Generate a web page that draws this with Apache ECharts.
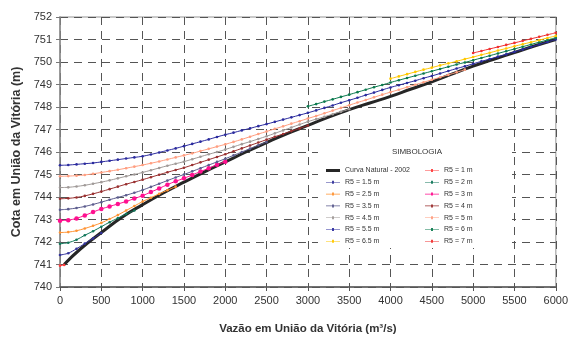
<!DOCTYPE html>
<html><head><meta charset="utf-8">
<script src="https://cdn.jsdelivr.net/npm/echarts@6/dist/echarts.min.js"></script>
<style>html,body{margin:0;padding:0;background:#fff}#c{width:571px;height:340px}</style>
</head><body><div id="c"></div>
<script>
// ---- data (flow in m3/s, level in m) ----
const FLOW_STEP = 100;
const naturalFlow = [50,250,500,750,1000,1250,1500,1750,2000,2250,2500,2750,3000,3250,3500,3750,4000,4250,4500,4750,5000,5250,5500,5750,6000];
const naturalLevel = [741.0,741.7,742.42,743.1,743.66,744.18,744.66,745.12,745.56,746.0,746.42,746.82,747.18,747.55,747.88,748.18,748.47,748.8,749.12,749.47,749.82,750.12,750.42,750.72,751.0];

const r5_1Flow = [0, 50];
const r5_1 = [740.95, 740.98];
const r5_15 = [741.42,741.5,741.7,741.93,742.16,742.4];
const r5_2 = [741.92,741.97,742.1,742.3,742.48,742.68,742.88,743.06,743.24,743.4];
const r5_25 = [742.42,742.44,742.5,742.6,742.72,742.85,743.02,743.2,743.4,743.6,743.8,743.97,744.14,744.3,744.46];
const r5_3 = [742.95,742.97,743.05,743.18,743.33,743.47,743.58,743.69,743.8,743.93,744.06,744.22,744.38,744.55,744.7,744.83,744.98,745.13,745.28,745.43,745.57];
const r5_35 = [743.43,743.46,743.51,743.58,743.67,743.77,743.88,743.98,744.08,744.19,744.31,744.45,744.59,744.73,744.87,745.0,745.14,745.28,745.42,745.56,745.7,745.85,746.0,746.15,746.3,746.44];
const r5_4 = [743.92,743.94,743.98,744.05,744.14,744.24,744.35,744.46,744.57,744.67,744.77,744.88,744.99,745.1,745.2,745.3,745.42,745.54,745.66,745.78,745.9,746.03,746.16,746.29,746.42,746.55,746.68,746.8,746.93,747.05,747.18];
const r5_45 = [744.42,744.43,744.47,744.52,744.59,744.66,744.74,744.83,744.92,745.0,745.09,745.19,745.29,745.39,745.48,745.57,745.68,745.79,745.9,746.0,746.11,746.23,746.35,746.46,746.58,746.7,746.83,746.96,747.09,747.22,747.35,747.46,747.57,747.68,747.79,747.9];
const r5_5 = [744.92,744.93,744.95,744.98,745.03,745.09,745.15,745.21,745.28,745.35,745.42,745.5,745.58,745.67,745.76,745.85,745.94,746.04,746.14,746.24,746.34,746.45,746.56,746.68,746.8,746.91,747.03,747.14,747.26,747.37,747.49,747.6,747.72,747.84,747.96,748.08,748.2,748.31,748.43,748.55,748.66,748.77,748.88,748.99,749.1,749.21,749.32,749.43,749.54,749.66];
const r5_55 = [745.41,745.42,745.45,745.48,745.51,745.56,745.61,745.66,745.71,745.76,745.81,745.89,745.98,746.07,746.16,746.26,746.36,746.46,746.56,746.67,746.77,746.86,746.96,747.05,747.15,747.24,747.34,747.44,747.54,747.64,747.74,747.85,747.96,748.07,748.19,748.3,748.41,748.53,748.64,748.76,748.87,748.97,749.07,749.17,749.28,749.38,749.49,749.6,749.71,749.81,749.92,750.03,750.13,750.24,750.34,750.45,750.56,750.67,750.78,750.89,751.0];
const r5_6 = [748.03,748.13,748.24,748.34,748.45,748.55,748.66,748.77,748.88,748.98,749.09,749.19,749.29,749.39,749.49,749.59,749.69,749.79,749.89,749.98,750.08,750.18,750.28,750.38,750.48,750.58,750.68,750.78,750.88,750.98,751.08];
const r5_65 = [749.26,749.36,749.46,749.56,749.66,749.75,749.85,749.94,750.03,750.13,750.22,750.32,750.41,750.51,750.6,750.7,750.79,750.88,750.97,751.07,751.16];
const r5_7 = [750.4,750.49,750.58,750.67,750.76,750.85,750.94,751.03,751.12,751.21,751.3];

const seriesDefs = [
  {name:'R5 = 1 m',   levels:r5_1,  flows:r5_1Flow, color:'#ff3b3b'},
  {name:'R5 = 1.5 m', levels:r5_15, start:0,    color:'#33339a'},
  {name:'R5 = 2 m',   levels:r5_2,  start:0,    color:'#11775a'},
  {name:'R5 = 2.5 m', levels:r5_25, start:0,    color:'#ff9333'},
  {name:'R5 = 3 m',   levels:r5_3,  start:0,    color:'#ff108f', size:4.5},
  {name:'R5 = 3.5 m', levels:r5_35, start:0,    color:'#5c5c8e'},
  {name:'R5 = 4 m',   levels:r5_4,  start:0,    color:'#9a3030'},
  {name:'R5 = 4.5 m', levels:r5_45, start:0,    color:'#a09a98'},
  {name:'R5 = 5 m',   levels:r5_5,  start:0,    color:'#ff9e80'},
  {name:'R5 = 5.5 m', levels:r5_55, start:0,    color:'#2b2b9e'},
  {name:'R5 = 6 m',   levels:r5_6,  start:3000, color:'#0b7a4e'},
  {name:'R5 = 6.5 m', levels:r5_65, start:4000, color:'#ffc800'},
  {name:'R5 = 7 m',   levels:r5_7,  start:5000, color:'#f03030'}
];
const naturalName = 'Curva Natural - 2002';
const legendCol1 = [naturalName,'R5 = 1.5 m','R5 = 2.5 m','R5 = 3.5 m','R5 = 4.5 m','R5 = 5.5 m','R5 = 6.5 m'];
const legendCol2 = ['R5 = 1 m','R5 = 2 m','R5 = 3 m','R5 = 4 m','R5 = 5 m','R5 = 6 m','R5 = 7 m'];

const FONT = 'Liberation Sans, Arial, sans-serif';
const ICON_LINE = 'path://M0 1.3H14V1.9H0Z M6.1 0.1H7.9V3.1H6.1Z';
const ICON_THICK = 'path://M0 0.1H14V3.1H0Z';

const series = [{
  name: naturalName, type:'line', smooth:true, symbol:'none',
  data: naturalFlow.map((f,i)=>[f, naturalLevel[i]]),
  lineStyle:{color:'#262626', width:3}, itemStyle:{color:'#262626'}, z:2
}];
seriesDefs.forEach(d=>{
  series.push({
    name:d.name, type:'line', smooth:0.3, symbol:'circle', symbolSize:d.size||2.6,
    data: d.levels.map((v,i)=>[d.flows ? d.flows[i] : d.start + i*FLOW_STEP, v]),
    lineStyle:{color:d.color, width:1}, itemStyle:{color:d.color}, z:3
  });
});

const legendBase = {
  orient:'vertical', itemWidth:14, itemHeight:7, itemGap:4.8, padding:0, z:20,
  textStyle:{fontSize:7, color:'#333', fontFamily:FONT}, selectedMode:false
};
const toLegendData = names => names.map(n => ({name:n, icon: n === naturalName ? ICON_THICK : ICON_LINE}));

const chart = echarts.init(document.getElementById('c'), null, {renderer:'canvas'});
chart.setOption({
  animation:false,
  backgroundColor:'#fff',
  grid:{left:60, right:13, top:17, bottom:48, show:true, borderColor:'#b8b8b8', borderWidth:1.5},
  xAxis:{
    type:'value', min:0, max:6000, interval:500,
    name:'Vazão em União da Vitória (m³/s)', nameLocation:'middle', nameGap:36,
    nameTextStyle:{fontSize:11.5, fontWeight:'bold', color:'#333', fontFamily:FONT},
    axisLine:{show:true, lineStyle:{color:'#555', width:1.5}},
    axisTick:{show:true, length:4, lineStyle:{color:'#555'}},
    axisLabel:{fontSize:11, color:'#333', margin:8, fontFamily:FONT, formatter: v => String(v)},
    splitLine:{show:true, lineStyle:{color:'#555', width:1, type:[8,6]}}
  },
  yAxis:{
    type:'value', min:740, max:752, interval:1,
    name:'Cota em União da Vitória (m)', nameLocation:'middle', nameGap:36,
    nameTextStyle:{fontSize:12.5, fontWeight:'bold', color:'#333', fontFamily:FONT},
    axisLine:{show:true, lineStyle:{color:'#888', width:1.5}},
    axisTick:{show:true, length:4, lineStyle:{color:'#777'}},
    axisLabel:{fontSize:11, color:'#333', margin:8, fontFamily:FONT, formatter: v => String(v)},
    splitLine:{show:true, lineStyle:{color:'#555', width:1, type:[8,6]}}
  },
  legend:[
    Object.assign({}, legendBase, {data:toLegendData(legendCol1), left:326, top:167}),
    Object.assign({}, legendBase, {data:toLegendData(legendCol2), left:425, top:167})
  ],
  graphic:[
    {type:'rect', z:15, shape:{x:318, y:143, width:194, height:105}, style:{fill:'#fff'}},
    {type:'text', z:21, x:417, y:152, style:{text:'SIMBOLOGIA', fontSize:8, fontFamily:FONT, fill:'#333', align:'center', verticalAlign:'middle'}}
  ],
  series: series
});
</script></body></html>
